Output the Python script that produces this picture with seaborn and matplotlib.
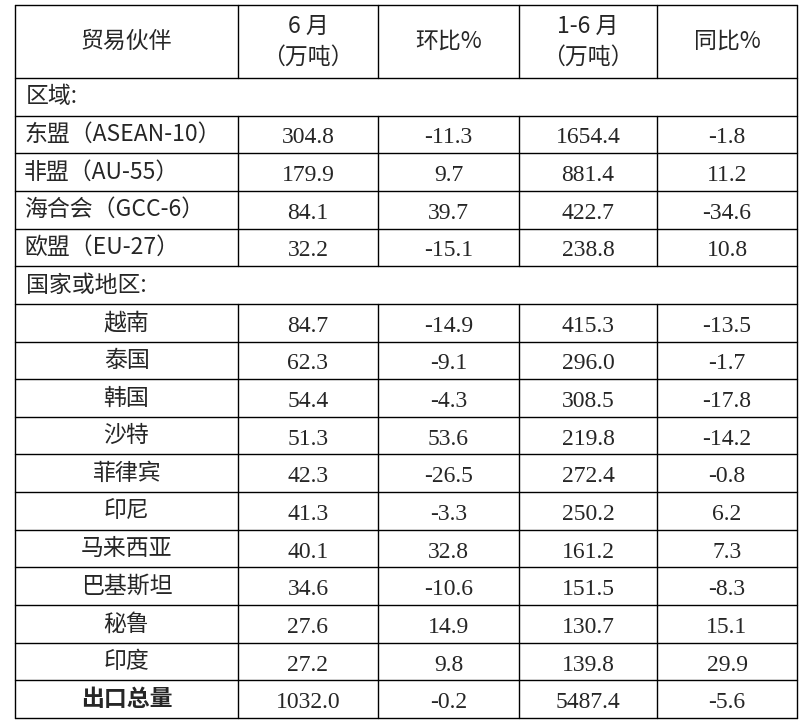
import matplotlib.pyplot as plt
import seaborn as sns

sns.set_theme(style="white")
plt.rcParams['font.family'] = ['Noto Sans CJK SC', 'DejaVu Sans']

header = ["贸易伙伴", "6 月\n（万吨）", "环比%", "1-6 月\n（万吨）", "同比%"]
regions = ["东盟（ASEAN-10）", "非盟（AU-55）", "海合会（GCC-6）", "欧盟（EU-27）"]
region_june = ["304.8", "179.9", "84.1", "32.2"]
region_mom = ["-11.3", "9.7", "39.7", "-15.1"]
region_ytd = ["1654.4", "881.4", "422.7", "238.8"]
region_yoy = ["-1.8", "11.2", "-34.6", "10.8"]
countries = ["越南", "泰国", "韩国", "沙特", "菲律宾", "印尼", "马来西亚", "巴基斯坦", "秘鲁", "印度"]
country_june = ["84.7", "62.3", "54.4", "51.3", "42.3", "41.3", "40.1", "34.6", "27.6", "27.2"]
country_mom = ["-14.9", "-9.1", "-4.3", "53.6", "-26.5", "-3.3", "32.8", "-10.6", "14.9", "9.8"]
country_ytd = ["415.3", "296.0", "308.5", "219.8", "272.4", "250.2", "161.2", "151.5", "130.7", "139.8"]
country_yoy = ["-13.5", "-1.7", "-17.8", "-14.2", "-0.8", "6.2", "7.3", "-8.3", "15.1", "29.9"]
total = ["出口总量", "1032.0", "-0.2", "5487.4", "-5.6"]

# layout in pixels
col_edges = [15, 238, 378, 519, 657, 797]
top, head_bot, bottom = 5, 78, 718
n_rows = 17
rh = (bottom - head_bot) / n_rows

fig = plt.figure(figsize=(8.02, 7.26), dpi=100)
ax = fig.add_axes([0, 0, 1, 1])
ax.set_xlim(0, 802)
ax.set_ylim(726, 0)
ax.axis("off")

lw = 1.0
row_y = [head_bot + i * rh for i in range(n_rows + 1)]
for y in [top] + row_y:
    ax.plot([col_edges[0], col_edges[-1]], [y, y], color="black", lw=lw)
# vertical lines; section rows span whole width
section_rows = {0, 5}
ax.plot([col_edges[0]] * 2, [top, bottom], color="black", lw=lw)
ax.plot([col_edges[-1]] * 2, [top, bottom], color="black", lw=lw)
for x in col_edges[1:-1]:
    ax.plot([x, x], [top, head_bot], color="black", lw=lw)
    for i in range(n_rows):
        if i not in section_rows:
            ax.plot([x, x], [row_y[i], row_y[i + 1]], color="black", lw=lw)

centers = [(col_edges[i] + col_edges[i + 1]) / 2 for i in range(5)]
cjk = 16.5
num_font = dict(family=["Liberation Serif"], fontsize=17, va="center_baseline", ha="center")

for i, h in enumerate(header):
    ax.text(centers[i], (top + head_bot) / 2, h, ha="center", va="center",
            fontsize=cjk, linespacing=1.45)

def mid(i):
    return (row_y[i] + row_y[i + 1]) / 2

ax.text(26, mid(0), "区域:", ha="left", va="center", fontsize=cjk)
for k, name in enumerate(regions):
    r = 1 + k
    ax.text(24, mid(r), name, ha="left", va="center", fontsize=cjk)
    for c, v in zip(range(1, 5), [region_june[k], region_mom[k], region_ytd[k], region_yoy[k]]):
        ax.text(centers[c], mid(r) + 1, v, **num_font)

ax.text(26, mid(5), "国家或地区:", ha="left", va="center", fontsize=cjk)
for k, name in enumerate(countries):
    r = 6 + k
    ax.text(centers[0], mid(r), name, ha="center", va="center", fontsize=cjk)
    for c, v in zip(range(1, 5), [country_june[k], country_mom[k], country_ytd[k], country_yoy[k]]):
        ax.text(centers[c], mid(r) + 1, v, **num_font)

ax.text(centers[0], mid(16), total[0], ha="center", va="center", fontsize=cjk, fontweight="bold")
for c in range(1, 5):
    ax.text(centers[c], mid(16) + 1, total[c], **num_font)

fig.savefig("out.png", dpi=100, facecolor="white")
